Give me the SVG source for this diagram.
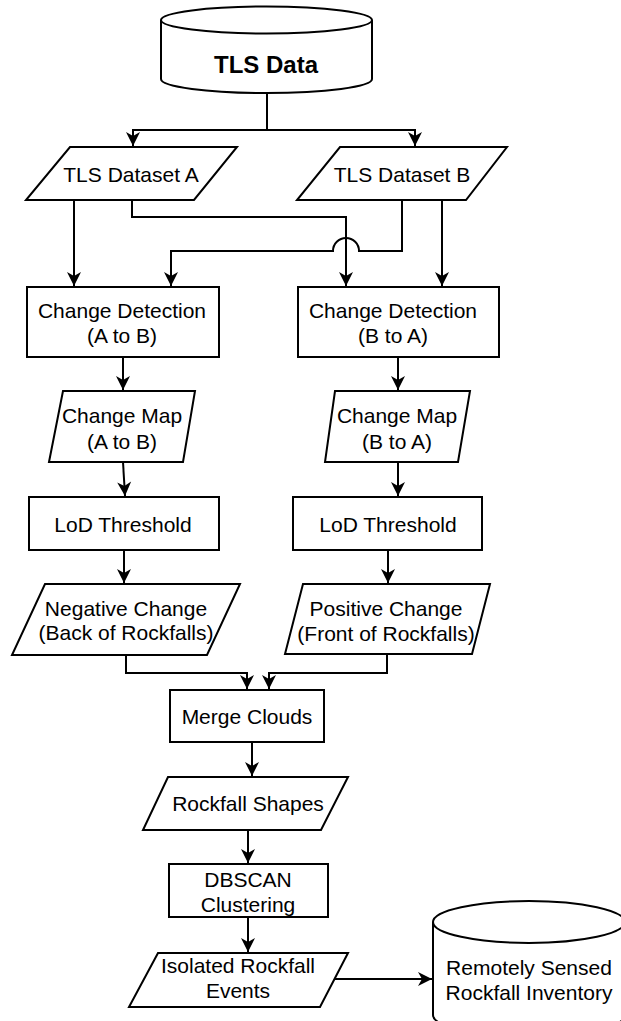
<svg xmlns="http://www.w3.org/2000/svg" width="621" height="1021" viewBox="0 0 621 1021">
<style>
.s{fill:#fff;stroke:#000;stroke-width:2}
.t{font-family:"Liberation Sans",Arial,sans-serif;font-size:21px;fill:#000;text-anchor:middle}
.b{font-weight:bold;font-size:24px}
.c{fill:none;stroke:#000;stroke-width:2}
</style>
<defs>
<marker id="ar" markerUnits="userSpaceOnUse" markerWidth="15" markerHeight="14" viewBox="0 0 15 14" refX="14" refY="7" orient="auto" overflow="visible">
<path d="M0,0 L14,7 L0,14 L4,7 Z" fill="#000"/>
</marker>
</defs>
<rect width="621" height="1021" fill="#fff"/>
<g id="connectors">
<path class="c" d="M267,93 L267,130"/>
<path class="c" d="M267,130 L133,130 L133,146" marker-end="url(#ar)"/>
<path class="c" d="M267,130 L415,130 L415,146" marker-end="url(#ar)"/>
<path class="c" d="M74,200 L74,286" marker-end="url(#ar)"/>
<path class="c" d="M132,200 L132,217 L346,217 L346,286" marker-end="url(#ar)"/>
<path class="c" d="M402,200 L402,251 L359,251 A13,13 0 0 0 333,251 L171,251 L171,286" marker-end="url(#ar)"/>
<path class="c" d="M442,200 L442,286" marker-end="url(#ar)"/>
<path class="c" d="M123,357 L123,390" marker-end="url(#ar)"/>
<path class="c" d="M398,357 L398,390" marker-end="url(#ar)"/>
<path class="c" d="M123,462 L125,496" marker-end="url(#ar)"/>
<path class="c" d="M398,462 L398,496" marker-end="url(#ar)"/>
<path class="c" d="M124,550 L124,583" marker-end="url(#ar)"/>
<path class="c" d="M388,550 L388,583" marker-end="url(#ar)"/>
<path class="c" d="M126,655 L126,673 L247,673 L247,689" marker-end="url(#ar)"/>
<path class="c" d="M387,654 L387,673 L269,673 L269,689" marker-end="url(#ar)"/>
<path class="c" d="M252,742 L252,776" marker-end="url(#ar)"/>
<path class="c" d="M248,830 L248,863" marker-end="url(#ar)"/>
<path class="c" d="M248,917 L248,952" marker-end="url(#ar)"/>
<path class="c" d="M333,979 L432,979" marker-end="url(#ar)"/>
</g>
<g id="tls_data">
<path class="s" d="M161,20 A105.5,13.5 0 0 1 372,20 L372,79 A105.5,14 0 0 1 161,79 Z"/>
<path class="c" d="M161,20 A105.5,13.5 0 0 0 372,20"/>
<text class="t b" x="266" y="73">TLS Data</text>
</g>
<g id="dataset_a">
<polygon class="s" points="70,147 237,147 194,200 26,200"/>
<text class="t" x="131" y="182">TLS Dataset A</text>
</g>
<g id="dataset_b">
<polygon class="s" points="340,147 507,147 466,200 297,200"/>
<text class="t" x="402" y="182">TLS Dataset B</text>
</g>
<g id="cd_ab">
<rect class="s" x="27" y="287" width="192" height="70"/>
<text class="t" x="122" y="318">Change Detection</text>
<text class="t" x="122" y="343">(A to B)</text>
</g>
<g id="cd_ba">
<rect class="s" x="298" y="287" width="201" height="70"/>
<text class="t" x="393" y="318">Change Detection</text>
<text class="t" x="393" y="343">(B to A)</text>
</g>
<g id="map_ab">
<polygon class="s" points="63,391 195,391 183,462 49,462"/>
<text class="t" x="122" y="423">Change Map</text>
<text class="t" x="122" y="449">(A to B)</text>
</g>
<g id="map_ba">
<polygon class="s" points="335,391 470,391 458,462 325,462"/>
<text class="t" x="397" y="423">Change Map</text>
<text class="t" x="397" y="449">(B to A)</text>
</g>
<g id="lod_a">
<rect class="s" x="29" y="497" width="190" height="53"/>
<text class="t" x="123" y="532">LoD Threshold</text>
</g>
<g id="lod_b">
<rect class="s" x="293" y="497" width="189" height="53"/>
<text class="t" x="388" y="532">LoD Threshold</text>
</g>
<g id="negative">
<polygon class="s" points="45,584 240,584 207,655 12,655"/>
<text class="t" x="126" y="616">Negative Change</text>
<text class="t" x="126" y="640">(Back of Rockfalls)</text>
</g>
<g id="positive">
<polygon class="s" points="303,584 490,584 472,654 285,654"/>
<text class="t" x="386" y="616">Positive Change</text>
<text class="t" x="386" y="641">(Front of Rockfalls)</text>
</g>
<g id="merge">
<rect class="s" x="170" y="690" width="154" height="52"/>
<text class="t" x="247" y="724">Merge Clouds</text>
</g>
<g id="shapes">
<polygon class="s" points="168,777 348,777 321,830 143,830"/>
<text class="t" x="248" y="811">Rockfall Shapes</text>
</g>
<g id="dbscan">
<rect class="s" x="169" y="864" width="159" height="53"/>
<text class="t" x="248" y="887">DBSCAN</text>
<text class="t" x="248" y="912">Clustering</text>
</g>
<g id="isolated">
<polygon class="s" points="158,953 348,953 320,1007 129,1007"/>
<text class="t" x="238" y="973">Isolated Rockfall</text>
<text class="t" x="238" y="998">Events</text>
</g>
<g id="inventory">
<path class="s" d="M433,922 A96,21 0 0 1 625,922 L625,1015 A96,21 0 0 1 433,1015 Z"/>
<path class="c" d="M433,922 A96,21 0 0 0 625,922"/>
<text class="t" x="529" y="975">Remotely Sensed</text>
<text class="t" x="529" y="1000">Rockfall Inventory</text>
</g>
</svg>
